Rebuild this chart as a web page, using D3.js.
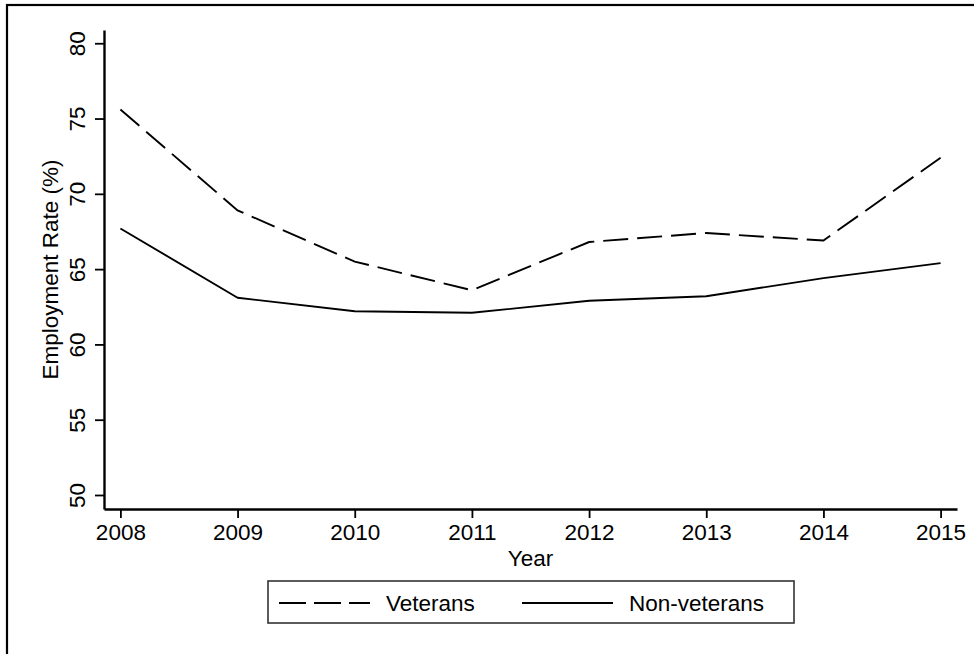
<!DOCTYPE html>
<html>
<head>
<meta charset="utf-8">
<script src="https://cdn.jsdelivr.net/npm/d3@7"></script>
<style>
  body { margin: 0; background: #fff; }
  svg text { font-family: "Liberation Sans", Arial, Helvetica, sans-serif; fill: #000; }
</style>
</head>
<body>
<div id="chart"></div>
<script>
var years = [2008, 2009, 2010, 2011, 2012, 2013, 2014, 2015];
var veterans = [75.6, 68.9, 65.5, 63.6, 66.8, 67.4, 66.9, 72.4];
var nonVeterans = [67.7, 63.1, 62.2, 62.1, 62.9, 63.2, 64.4, 65.4];
var yTicks = [50, 55, 60, 65, 70, 75, 80];
var seriesNames = ["Veterans", "Non-veterans"];

var W = 974, H = 654;
var fontSize = "22.5px";

var svg = d3.select("#chart").append("svg")
    .attr("width", W)
    .attr("height", H);

// outer frame (cropped at right / bottom)
svg.append("rect")
    .attr("x", 7).attr("y", 5)
    .attr("width", 1200).attr("height", 1200)
    .attr("fill", "none")
    .attr("stroke", "#000")
    .attr("stroke-width", 2.2);

var x = d3.scaleLinear().domain([2007.86, 2015.14]).range([104, 957]);
var y = d3.scaleLinear().domain([49.07, 80.88]).range([509, 30]);

// x axis
var gx = svg.append("g")
    .attr("transform", "translate(0,509)")
    .call(d3.axisBottom(x).tickValues(years).tickFormat(d3.format("d"))
        .tickSizeInner(9).tickSizeOuter(0));
gx.select(".domain").attr("stroke-width", 2.4);
gx.selectAll(".tick line").attr("stroke-width", 1.8);
gx.selectAll(".tick text")
    .attr("font-size", fontSize)
    .attr("dy", 0)
    .attr("y", 31);

// y axis
var gy = svg.append("g")
    .attr("transform", "translate(104,0)")
    .call(d3.axisLeft(y).tickValues(yTicks).tickFormat(d3.format("d"))
        .tickSizeInner(9).tickSizeOuter(0));
gy.select(".domain").attr("stroke-width", 2.4);
gy.selectAll(".tick line").attr("stroke-width", 1.8);
gy.selectAll(".tick text")
    .attr("font-size", fontSize)
    .attr("x", 0).attr("dy", 0)
    .attr("text-anchor", "middle")
    .attr("transform", "translate(-19,0) rotate(-90)");

// axis titles
svg.append("text")
    .attr("x", (x.range()[0] + x.range()[1]) / 2)
    .attr("y", 566)
    .attr("text-anchor", "middle")
    .attr("font-size", fontSize)
    .text("Year");

svg.append("text")
    .attr("transform", "translate(58," + ((y.range()[0] + y.range()[1]) / 2) + ") rotate(-90)")
    .attr("text-anchor", "middle")
    .attr("font-size", fontSize)
    .text("Employment Rate (%)");

// lines
var line = d3.line()
    .x(function(d, i) { return x(years[i]); })
    .y(function(d) { return y(d); });

svg.append("path")
    .datum(veterans)
    .attr("d", line)
    .attr("fill", "none")
    .attr("stroke", "#000")
    .attr("stroke-width", 1.9)
    .attr("stroke-dasharray", "25,9");

svg.append("path")
    .datum(nonVeterans)
    .attr("d", line)
    .attr("fill", "none")
    .attr("stroke", "#000")
    .attr("stroke-width", 1.9)
    .attr("stroke-linejoin", "round");

// legend
var legend = svg.append("g");
legend.append("rect")
    .attr("x", 268).attr("y", 581)
    .attr("width", 526).attr("height", 42)
    .attr("fill", "#fff")
    .attr("stroke", "#333")
    .attr("stroke-width", 1.6);

var legendItems = [
    {name: seriesNames[0], x1: 279, x2: 370, tx: 386, dash: "27,8"},
    {name: seriesNames[1], x1: 522, x2: 613, tx: 629, dash: null}
];
legendItems.forEach(function(it) {
    legend.append("line")
        .attr("x1", it.x1).attr("x2", it.x2)
        .attr("y1", 603).attr("y2", 603)
        .attr("stroke", "#000")
        .attr("stroke-width", 1.9)
        .attr("stroke-dasharray", it.dash);
    legend.append("text")
        .attr("x", it.tx).attr("y", 611)
        .attr("font-size", fontSize)
        .text(it.name);
});
</script>
</body>
</html>
